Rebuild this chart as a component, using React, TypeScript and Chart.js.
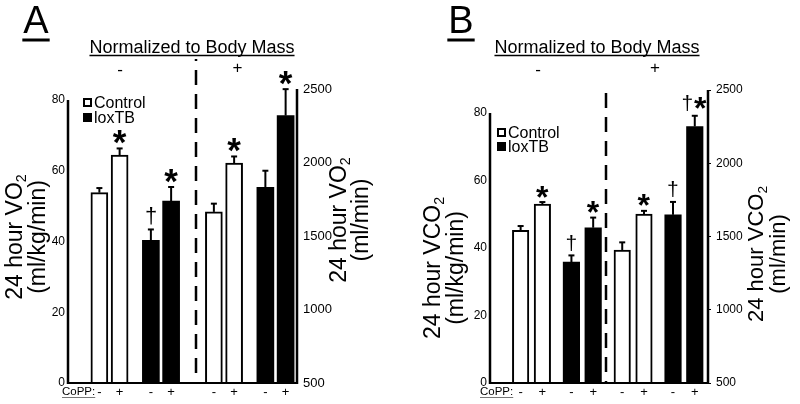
import React, { useEffect, useRef } from "react";
import { Chart, registerables } from "chart.js";

Chart.register(...registerables);

const FONT = "'Liberation Sans', Arial, Helvetica, sans-serif";
Chart.defaults.font.family = FONT;
Chart.defaults.color = "#000";

// ---------- data ----------
const coppLabels = ["-", "+", "-", "+", "-", "+", "-", "+"];
const groupNames = ["Control", "loxTB"];
const massLabels = ["-", "+"];
const leftTicks = [0, 20, 40, 60, 80];
const rightTicks = [500, 1000, 1500, 2000, 2500];

// Panel A: 24 hour VO2
const vo2Left = [53.8, 64.4, 40.3, 51.4];
const vo2LeftErr = [1.3, 1.9, 3.1, 4.0];
const vo2Right = [1664, 1996, 1831, 2319];
const vo2RightErr = [56, 45, 113, 180];
const vo2Marks = ["", "*", "†", "*", "", "*", "", "*"];

// Panel B: 24 hour VCO2
const vco2Left = [45.2, 53.0, 35.8, 46.0];
const vco2LeftErr = [1.3, 0.6, 2.0, 3.0];
const vco2Right = [1408, 1653, 1648, 2251];
const vco2RightErr = [52, 22, 88, 73];
const vco2Marks = ["", "*", "†", "*", "", "*", "†", "†*"];

// ---------- layout ----------
type Panel = any;

const panelA: Panel = {
  letter: "A",
  gas: "VO",
  originX: 0,
  leftAxisW: 68,
  rightAxisW: 103,
  top: 89,
  xAxisH: 21,
  leftMax: 83.1,
  barWidth: 17,
  firstPair: 41.5,
  pairSpacing: 51.5,
  halfExtra: 11.5,
  pitch: 20.25,
  divider: 128,
  dividerTop: 59,
  dash: [15, 9],
  dashOffset: 13,
  leftTitleX: [16, 38.5],
  leftTitleY: 237,
  leftTitleSize: 23,
  rightTitleX: [340, 362],
  rightTitleY: 220,
  rightTitleSize: 23,
  legendX: 83,
  legendY: [103, 118],
  letterX: 36,
  normX: 192,
  minusX: 120,
  plusX: 237.5,
  coppX: 62,
  leftTickFont: 12,
  rightTickFont: 13,
  rightTickPad: 6,
  rightTickMarks: false,
  starSize: 35,
  daggerSize: 22,
  left: vo2Left,
  leftErr: vo2LeftErr,
  right: vo2Right,
  rightErr: vo2RightErr,
  marks: vo2Marks,
};

const panelB: Panel = {
  letter: "B",
  gas: "VCO",
  originX: 400,
  leftAxisW: 90,
  rightAxisW: 92,
  top: 90,
  xAxisH: 21,
  leftMax: 86.8,
  barWidth: 16.5,
  firstPair: 41.5,
  pairSpacing: 50.8,
  halfExtra: 0,
  pitch: 21.75,
  divider: 116,
  dividerTop: 93,
  dash: [15, 9],
  dashOffset: 0,
  leftTitleX: [34, 56.5],
  leftTitleY: 268,
  leftTitleSize: 23,
  rightTitleX: [357, 379],
  rightTitleY: 254,
  rightTitleSize: 22,
  legendX: 97,
  legendY: [133, 147],
  letterX: 61,
  normX: 197,
  minusX: 138,
  plusX: 255,
  coppX: 80,
  leftTickFont: 12,
  rightTickFont: 12,
  rightTickPad: 5,
  rightTickMarks: true,
  starSize: 32,
  daggerSize: 21,
  left: vco2Left,
  leftErr: vco2LeftErr,
  right: vco2Right,
  rightErr: vco2RightErr,
  marks: vco2Marks,
};

function barX(P: Panel, i: number) {
  const pair = Math.floor(i / 2);
  const c = P.firstPair + pair * P.pairSpacing + (pair >= 2 ? P.halfExtra : 0);
  return c + (i % 2 === 0 ? -P.pitch / 2 : P.pitch / 2);
}

function line(ctx: CanvasRenderingContext2D, x1: number, y1: number, x2: number, y2: number) {
  ctx.beginPath();
  ctx.moveTo(x1, y1);
  ctx.lineTo(x2, y2);
  ctx.stroke();
}

function drawMark(ctx: CanvasRenderingContext2D, mark: string, cx: number, bottom: number, P: Panel) {
  if (!mark) return;
  const glyphs = Array.from(mark).map((ch) => {
    const font = ch === "*" ? `bold ${P.starSize}px ${FONT}` : `${P.daggerSize}px ${FONT}`;
    ctx.font = font;
    const m = ctx.measureText(ch);
    return {
      ch,
      font,
      l: m.actualBoundingBoxLeft,
      r: m.actualBoundingBoxRight,
      a: m.actualBoundingBoxAscent,
      d: m.actualBoundingBoxDescent,
    };
  });
  const gap = 1.5;
  const widths = glyphs.map((g) => g.l + g.r);
  const total = widths.reduce((s, w) => s + w, 0) + gap * (glyphs.length - 1);
  const maxH = Math.max(...glyphs.map((g) => g.a + g.d));
  let x = cx - total / 2;
  ctx.textAlign = "left";
  ctx.textBaseline = "alphabetic";
  glyphs.forEach((g, i) => {
    const h = g.a + g.d;
    const b = bottom - (maxH - h) / 2;
    ctx.font = g.font;
    ctx.fillText(g.ch, x + g.l, b - g.d);
    x += widths[i] + gap;
  });
}

function vText(
  ctx: CanvasRenderingContext2D,
  parts: [string, boolean][],
  cx: number,
  cy: number,
  size: number
) {
  ctx.save();
  ctx.translate(cx, cy);
  ctx.rotate(-Math.PI / 2);
  ctx.textBaseline = "middle";
  ctx.textAlign = "left";
  const subSize = size * 0.62;
  const ws = parts.map(([t, sub]) => {
    ctx.font = `${sub ? subSize : size}px ${FONT}`;
    return ctx.measureText(t).width;
  });
  const total = ws.reduce((s, w) => s + w, 0);
  let x = -total / 2;
  parts.forEach(([t, sub], i) => {
    ctx.font = `${sub ? subSize : size}px ${FONT}`;
    ctx.fillText(t, x, sub ? size * 0.27 : 0);
    x += ws[i];
  });
  ctx.restore();
}

function decorPlugin(P: Panel) {
  return {
    id: "decor" + P.letter,
    afterDraw(chart: any) {
      const ctx: CanvasRenderingContext2D = chart.ctx;
      const { left, right, bottom } = chart.chartArea;
      const y = chart.scales.y;
      const y1 = chart.scales.y1;
      const x = chart.scales.x;
      ctx.save();
      ctx.strokeStyle = "#000";
      ctx.fillStyle = "#000";
      ctx.lineCap = "butt";

      // axis lines
      ctx.lineWidth = 2.5;
      line(ctx, left, y.getPixelForValue(leftTicks[0]) + 1, left, y.getPixelForValue(leftTicks[leftTicks.length - 1]));
      line(ctx, right, y1.getPixelForValue(rightTicks[0]) + 1, right, y1.getPixelForValue(rightTicks[rightTicks.length - 1]));
      ctx.lineWidth = 2;
      line(ctx, left, bottom, right, bottom);

      // divider
      ctx.save();
      ctx.lineWidth = 2.5;
      ctx.setLineDash(P.dash);
      ctx.lineDashOffset = P.dashOffset;
      const dx = x.getPixelForValue(P.divider);
      line(ctx, dx, P.dividerTop, dx, bottom);
      ctx.restore();

      // error bars and significance marks
      chart.data.datasets.forEach((ds: any, di: number) => {
        const meta = chart.getDatasetMeta(di);
        const scale = chart.scales[ds.yAxisID];
        meta.data.forEach((el: any, k: number) => {
          const v = ds.data[k].y;
          const e = ds.errors[k];
          const yTop = scale.getPixelForValue(v + e);
          ctx.lineWidth = 2;
          line(ctx, el.x, el.y, el.x, yTop);
          line(ctx, el.x - 3, yTop, el.x + 3, yTop);
          drawMark(ctx, ds.marks[k], el.x, yTop - 4.5, P);
        });
      });

      // legend
      ctx.font = `16px ${FONT}`;
      ctx.textBaseline = "middle";
      ctx.textAlign = "left";
      groupNames.forEach((g, i) => {
        const cy = P.legendY[i];
        if (i === 0) {
          ctx.lineWidth = 2;
          ctx.strokeRect(P.legendX + 1, cy - 4, 7, 7);
        } else {
          ctx.fillRect(P.legendX, cy - 5, 9, 9);
        }
        ctx.fillText(g, P.legendX + 11, cy + 1);
      });

      // axis titles
      vText(ctx, [["24 hour " + P.gas, false], ["2", true]], P.leftTitleX[0], P.leftTitleY, P.leftTitleSize);
      vText(ctx, [["(ml/kg/min)", false]], P.leftTitleX[1], P.leftTitleY, P.leftTitleSize);
      vText(ctx, [["24 hour " + P.gas, false], ["2", true]], P.rightTitleX[0], P.rightTitleY, P.rightTitleSize);
      vText(ctx, [["(ml/min)", false]], P.rightTitleX[1], P.rightTitleY, P.rightTitleSize);

      // panel letter
      ctx.font = `38px ${FONT}`;
      ctx.textAlign = "center";
      ctx.textBaseline = "alphabetic";
      const lw = ctx.measureText(P.letter).width;
      ctx.fillText(P.letter, P.letterX, 33);
      ctx.lineWidth = 3;
      line(ctx, P.letterX - lw / 2 - 1, 40, P.letterX + lw / 2 + 1, 40);

      // header
      const head = "Normalized to Body Mass";
      ctx.font = `18px ${FONT}`;
      const hw = ctx.measureText(head).width;
      ctx.fillText(head, P.normX, 53);
      ctx.lineWidth = 1.5;
      line(ctx, P.normX - hw / 2, 55.5, P.normX + hw / 2, 55.5);
      ctx.font = `17px ${FONT}`;
      ctx.textBaseline = "middle";
      ctx.fillText(massLabels[0], P.minusX, 70);
      ctx.fillText(massLabels[1], P.plusX, 68);

      // CoPP label
      ctx.font = `11.5px ${FONT}`;
      ctx.textAlign = "left";
      ctx.textBaseline = "alphabetic";
      const cw = ctx.measureText("CoPP:").width;
      ctx.fillText("CoPP:", P.coppX, 395);
      ctx.lineWidth = 1;
      ctx.strokeStyle = "#777";
      line(ctx, P.coppX, 397.5, P.coppX + cw, 397.5);

      ctx.restore();
    },
  };
}

function buildConfig(P: Panel): any {
  const chartW = 400 - P.leftAxisW - P.rightAxisW;
  const positions = coppLabels.map((_, i) => barX(P, i));
  const mk = (idx: number[], values: number[], errs: number[], axis: string, black: boolean) => ({
    label: groupNames[black ? 1 : 0],
    data: idx.map((i, k) => ({ x: positions[i], y: values[k] })),
    errors: errs,
    marks: idx.map((i) => P.marks[i]),
    yAxisID: axis,
    backgroundColor: black ? "#000" : "#fff",
    borderColor: "#000",
    borderWidth: black ? 0 : 2,
    barThickness: P.barWidth,
    grouped: false,
  });
  return {
    type: "bar",
    data: {
      datasets: [
        mk([0, 1], P.left.slice(0, 2), P.leftErr.slice(0, 2), "y", false),
        mk([2, 3], P.left.slice(2, 4), P.leftErr.slice(2, 4), "y", true),
        mk([4, 5], P.right.slice(0, 2), P.rightErr.slice(0, 2), "y1", false),
        mk([6, 7], P.right.slice(2, 4), P.rightErr.slice(2, 4), "y1", true),
      ],
    },
    options: {
      animation: false,
      responsive: false,
      devicePixelRatio: 1,
      layout: { padding: { top: P.top, left: 0, right: 0, bottom: 0 } },
      plugins: { legend: { display: false }, tooltip: { enabled: false }, title: { display: false } },
      scales: {
        x: {
          type: "linear",
          min: 0,
          max: chartW,
          offset: false,
          grid: { display: false, drawTicks: false },
          border: { display: false },
          afterBuildTicks: (s: any) => {
            s.ticks = positions.map((v) => ({ value: v }));
          },
          afterFit: (s: any) => {
            s.height = P.xAxisH;
          },
          ticks: {
            autoSkip: false,
            maxRotation: 0,
            minRotation: 0,
            padding: 2,
            font: { size: 13 },
            color: "#000",
            callback: (_v: any, i: number) => coppLabels[i],
          },
        },
        y: {
          position: "left",
          min: 0,
          max: P.leftMax,
          grid: { display: false, drawTicks: false },
          border: { display: false },
          afterBuildTicks: (s: any) => {
            s.ticks = leftTicks.map((v) => ({ value: v }));
          },
          afterFit: (s: any) => {
            s.width = P.leftAxisW;
          },
          ticks: {
            padding: 3,
            font: { size: P.leftTickFont },
            color: "#000",
            callback: (v: any) => String(v),
          },
        },
        y1: {
          position: "right",
          min: 500,
          max: 2500,
          grid: P.rightTickMarks
            ? { display: true, drawOnChartArea: false, drawTicks: true, tickLength: 3, color: "#000", tickWidth: 1 }
            : { display: false, drawTicks: false },
          border: { display: false },
          afterBuildTicks: (s: any) => {
            s.ticks = rightTicks.map((v) => ({ value: v }));
          },
          afterFit: (s: any) => {
            s.width = P.rightAxisW;
          },
          ticks: {
            padding: P.rightTickPad,
            font: { size: P.rightTickFont },
            color: "#000",
            callback: (v: any) => String(v),
          },
        },
      },
    },
    plugins: [decorPlugin(P)],
  };
}

function PanelChart({ panel }: { panel: Panel }) {
  const ref = useRef<HTMLCanvasElement | null>(null);
  useEffect(() => {
    if (!ref.current) return;
    const chart = new Chart(ref.current, buildConfig(panel));
    return () => chart.destroy();
  }, [panel]);
  return <canvas ref={ref} width={400} height={404} style={{ display: "block", width: 400, height: 404 }} />;
}

export default function App() {
  return (
    <div
      style={{
        position: "absolute",
        left: 0,
        top: 0,
        width: 800,
        height: 404,
        display: "flex",
        background: "#fff",
      }}
    >
      <PanelChart panel={panelA} />
      <PanelChart panel={panelB} />
    </div>
  );
}
